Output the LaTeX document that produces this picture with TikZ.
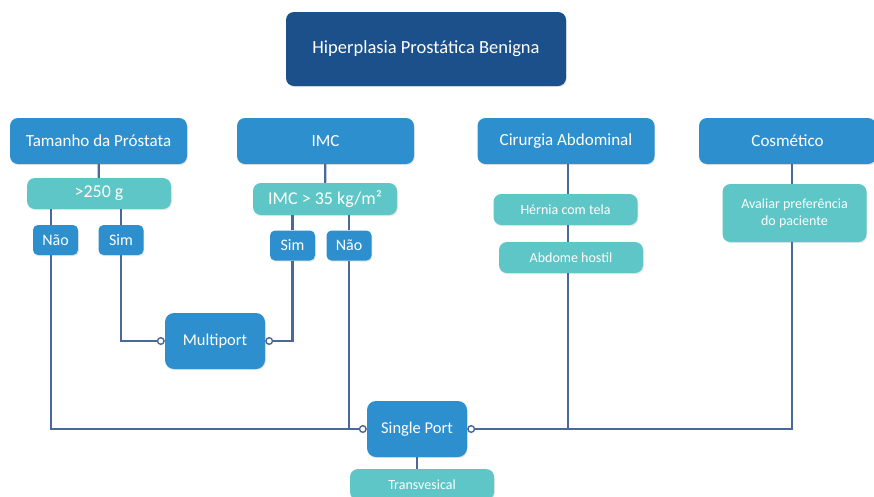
\documentclass[tikz,border=0pt]{standalone}
\usepackage{fontspec}
\setmainfont{Carlito}
\usetikzlibrary{arrows.meta}
\usetikzlibrary{shadows}
\definecolor{hpbdark}{RGB}{27,80,138}
\definecolor{hpbblue}{RGB}{46,143,206}
\definecolor{hpbteal}{RGB}{94,198,198}
\definecolor{hpbline}{RGB}{74,104,154}

\begin{document}
\begin{tikzpicture}[x=1pt,y=-1pt,
  box/.style={rounded corners=8pt,text=white,align=center,inner sep=2pt,
    drop shadow={shadow xshift=0.8pt,shadow yshift=-1.2pt,opacity=0.18}},
  titlebox/.style={box,fill=hpbdark,minimum width=280pt,minimum height=74pt,font=\fontsize{18.5}{22}\selectfont},
  head/.style={box,fill=hpbblue,minimum width=177pt,minimum height=46pt,font=\fontsize{17}{20}\selectfont},
  crit/.style={box,fill=hpbteal,minimum width=144pt,minimum height=31pt,font=\fontsize{18}{21}\selectfont},
  note/.style={box,fill=hpbteal,minimum width=144pt,minimum height=31pt,font=\fontsize{14}{17}\selectfont},
  answer/.style={box,rounded corners=5pt,fill=hpbblue,minimum width=45pt,minimum height=30pt,font=\fontsize{16}{19}\selectfont},
  port/.style={box,rounded corners=9pt,fill=hpbblue,minimum width=100pt,minimum height=56pt,font=\fontsize{16.5}{19}\selectfont},
  link/.style={draw=hpbline,line width=2.2pt},
  plug/.style={-{Circle[length=8pt,width=8pt,line width=1.4pt,fill=white]}}]
\fill[white] (0,0) rectangle (874,496);
\useasboundingbox (0,0) rectangle (874,496);

\node[titlebox] (hpb) at (426,49) {Hiperplasia Prostática Benigna};
\node[head] (tam) at (98.5,141) {Tamanho da Próstata};
\node[head] (imc) at (325.5,141) {IMC};
\node[head] (cir) at (566,141) {Cirurgia Abdominal};
\node[head,minimum width=177pt] (cos) at (787.5,141) {Cosmético};

\node[crit] (g250) at (99,193.5) {>250 g};
\node[crit,minimum height=32pt] (imc35) at (325,199) {IMC > 35 kg/m²};
\node[answer] (nao1) at (55.5,240) {Não};
\node[answer] (sim1) at (121,240) {Sim};
\node[answer] (sim2) at (292.5,245.5) {Sim};
\node[answer] (nao2) at (349,245.5) {Não};

\node[note] (hern) at (565.5,209.5) {Hérnia com tela};
\node[note] (abd) at (571,257.5) {Abdome hostil};
\node[note,minimum height=58pt] (aval) at (794.5,213) {Avaliar preferência\\do paciente};

\node[port] (multi) at (215,341) {Multiport};
\node[port] (single) at (417,429) {Single Port};
\node[note] (trans) at (422,484.5) {Transvesical};

\coordinate (naox) at (51,0);
\coordinate (cirx) at (568,0);
\coordinate (cosx) at (792,0);

\draw[link] (tam) -- (g250);
\draw[link] (imc) -- (imc35);
\draw[link] (g250.south -| naox) -- (nao1.north -| naox);
\draw[link] (g250.south -| sim1.north) -- (sim1.north);
\draw[link] (imc35.south -| sim2.north) -- (sim2.north);
\draw[link] (imc35.south -| nao2.north) -- (nao2.north);
\draw[link] (cir.south -| cirx) -- (hern.north -| cirx);
\draw[link] (hern.south -| cirx) -- (abd.north -| cirx);
\draw[link] (cos.south -| cosx) -- (aval.north -| cosx);

\draw[link,plug] (sim1.south) |- (multi.west);
\draw[link,plug] (sim2.south) |- (multi.east);
\draw[link,plug] (nao1.south -| naox) |- (single.west);
\draw[link] (nao2.south) -- (nao2.south |- single.west);
\draw[link,plug] (aval.south -| cosx) |- (single.east);
\draw[link] (abd.south -| cirx) -- (cirx |- single.east);
\draw[link] (single.south) -- (single.south |- trans.north);
\end{tikzpicture}
\end{document}
